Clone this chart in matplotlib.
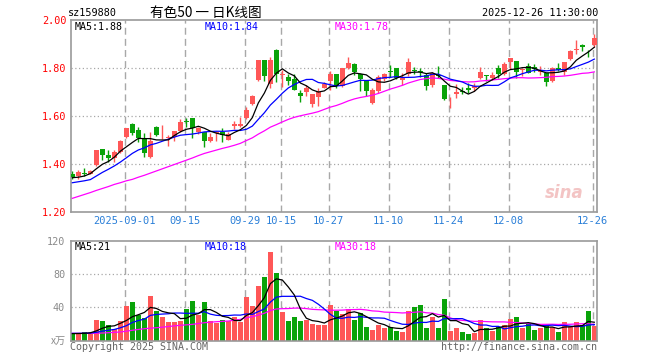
import matplotlib
matplotlib.use("Agg")
import matplotlib.pyplot as plt
import numpy as np

# ---- datos (sz159880, diario) ----
opens = [1.358, 1.351, 1.362, 1.359, 1.396, 1.462, 1.437, 1.426, 1.448, 1.512,
         1.565, 1.540, 1.504, 1.430, 1.553, 1.524, 1.508, 1.513, 1.537, 1.579,
         1.590, 1.532, 1.532, 1.496, 1.530, 1.532, 1.500, 1.557, 1.560, 1.593,
         1.648, 1.750, 1.833, 1.732, 1.875, 1.771, 1.762, 1.754, 1.697, 1.701,
         1.648, 1.680, 1.718, 1.746, 1.773, 1.725, 1.798, 1.815, 1.773, 1.748,
         1.655, 1.704, 1.754, 1.789, 1.798, 1.748, 1.773, 1.793, 1.788, 1.771,
         1.729, 1.771, 1.729, 1.674, 1.693, 1.705, 1.718, 1.715, 1.757, 1.771,
         1.757, 1.798, 1.773, 1.823, 1.829, 1.790, 1.808, 1.805, 1.783, 1.779,
         1.746, 1.798, 1.782, 1.837, 1.875, 1.896, 1.875, 1.896]
highs = [1.371, 1.375, 1.382, 1.376, 1.460, 1.462, 1.457, 1.457, 1.498, 1.551,
         1.571, 1.555, 1.530, 1.532, 1.557, 1.562, 1.521, 1.539, 1.587, 1.590,
         1.590, 1.555, 1.532, 1.528, 1.537, 1.548, 1.534, 1.579, 1.597, 1.639,
         1.687, 1.833, 1.833, 1.846, 1.879, 1.791, 1.776, 1.776, 1.707, 1.729,
         1.690, 1.718, 1.743, 1.787, 1.773, 1.801, 1.846, 1.821, 1.778, 1.748,
         1.715, 1.771, 1.778, 1.812, 1.801, 1.778, 1.840, 1.805, 1.801, 1.778,
         1.785, 1.809, 1.729, 1.680, 1.732, 1.722, 1.736, 1.736, 1.805, 1.771,
         1.785, 1.812, 1.826, 1.840, 1.829, 1.798, 1.819, 1.815, 1.809, 1.779,
         1.805, 1.819, 1.826, 1.876, 1.916, 1.901, 1.875, 1.940]
lows = [1.337, 1.337, 1.351, 1.357, 1.393, 1.416, 1.409, 1.409, 1.444, 1.507,
        1.521, 1.493, 1.429, 1.426, 1.518, 1.503, 1.477, 1.497, 1.535, 1.554,
        1.507, 1.526, 1.472, 1.490, 1.496, 1.490, 1.498, 1.546, 1.555, 1.587,
        1.646, 1.746, 1.746, 1.715, 1.743, 1.722, 1.729, 1.707, 1.660, 1.685,
        1.639, 1.643, 1.715, 1.708, 1.715, 1.721, 1.796, 1.771, 1.704, 1.685,
        1.648, 1.694, 1.746, 1.764, 1.754, 1.729, 1.768, 1.773, 1.764, 1.708,
        1.722, 1.757, 1.666, 1.632, 1.676, 1.690, 1.694, 1.704, 1.754, 1.746,
        1.748, 1.757, 1.771, 1.796, 1.760, 1.768, 1.778, 1.782, 1.771, 1.725,
        1.740, 1.787, 1.771, 1.835, 1.857, 1.871, 1.844, 1.889]
closes = [1.344, 1.368, 1.360, 1.372, 1.457, 1.437, 1.426, 1.451, 1.496, 1.548,
          1.528, 1.510, 1.447, 1.496, 1.521, 1.526, 1.513, 1.537, 1.573, 1.574,
          1.551, 1.551, 1.496, 1.512, 1.533, 1.521, 1.526, 1.565, 1.568, 1.623,
          1.685, 1.833, 1.768, 1.833, 1.773, 1.776, 1.746, 1.708, 1.685, 1.715,
          1.690, 1.701, 1.732, 1.773, 1.725, 1.798, 1.819, 1.782, 1.754, 1.704,
          1.707, 1.764, 1.773, 1.785, 1.757, 1.760, 1.823, 1.789, 1.785, 1.726,
          1.778, 1.768, 1.671, 1.677, 1.701, 1.701, 1.707, 1.726, 1.785, 1.767,
          1.771, 1.773, 1.816, 1.840, 1.782, 1.796, 1.780, 1.796, 1.787, 1.740,
          1.798, 1.790, 1.823, 1.871, 1.879, 1.887, 1.873, 1.923]
volumes = [7.6, 7.6, 10.4, 8.4, 24.8, 23.6, 18.8, 13.6, 23.6, 41.6,
           46.4, 30.8, 27.2, 53.6, 35.6, 28.4, 22.4, 22.4, 23.6, 38.0,
           47.6, 30.8, 46.4, 23.6, 21.2, 24.8, 23.6, 28.4, 22.4, 52.4,
           41.6, 65.6, 76.4, 106.4, 81.2, 34.4, 23.6, 28.4, 23.6, 24.8,
           20.0, 18.8, 18.8, 42.8, 35.6, 32.0, 38.0, 24.8, 33.2, 16.4,
           12.8, 18.8, 15.2, 16.4, 11.6, 10.4, 35.6, 40.4, 42.8, 15.2,
           28.4, 15.2, 50.0, 11.6, 15.2, 10.4, 8.0, 9.2, 24.8, 15.2,
           11.6, 16.4, 18.8, 26.0, 28.4, 15.2, 20.0, 12.8, 15.2, 17.6,
           16.4, 10.4, 22.4, 16.4, 22.4, 18.8, 35.6, 17.6]

# tramos iniciales de las medias (dependen de dias fuera del grafico)
ma5_head = [1.343, 1.345, 1.350, 1.360]
ma10_head = [1.322, 1.326, 1.330, 1.335, 1.350, 1.365, 1.378, 1.392, 1.408]
ma30_head = [1.257, 1.265, 1.273, 1.281, 1.290, 1.298, 1.306, 1.315, 1.322, 1.330,
             1.336, 1.345, 1.353, 1.362, 1.371, 1.380, 1.389, 1.398, 1.407, 1.416,
             1.425, 1.435, 1.444, 1.451, 1.458, 1.465, 1.471, 1.478, 1.486]
vma5_head = [8.5, 8.6, 8.8, 9.5]
vma10_head = [8.8, 8.8, 8.9, 9.2, 10.0, 11.5, 12.5, 13.5, 15.5]
vma30_head = [8.8, 8.8, 8.8, 8.8, 9.0, 9.2, 9.6, 10.0, 10.5, 11.4,
              12.5, 13.5, 14.4, 15.0, 15.6, 16.2, 17.0, 17.8, 18.5, 19.0,
              19.6, 20.6, 21.6, 22.2, 22.8, 23.2, 23.6, 24.6, 25.6]

date_idx = [9, 19, 29, 35, 43, 53, 63, 73, 87]
date_labels = ["2025-09-01", "09-15", "09-29", "10-15", "10-27",
               "11-10", "11-24", "12-08", "12-26"]
price_ticks = [1.20, 1.40, 1.60, 1.80, 2.00]
vol_ticks = [40, 80, 120]
ma_labels = ["MA5:1.88", "MA10:1.84", "MA30:1.78"]
vma_labels = ["MA5:21", "MA10:18", "MA30:18"]

ROJO = "#ff5757"
VERDE = "#09a309"
GRIS = "#a8a8a8"
MONO = "DejaVu Sans Mono"
W, H = 660, 360


def media_movil(vals, n, head):
    out = list(head)
    for i in range(len(head), len(vals)):
        out.append(np.mean(vals[i - n + 1:i + 1]))
    return np.array(out)


def fx(px):
    return px / W


def fy(py):
    return 1 - py / H


x = np.arange(len(closes))
o, h, l, c = map(np.array, (opens, highs, lows, closes))
sube = c >= o
colores = np.where(sube, ROJO, VERDE)

fig = plt.figure(figsize=(W / 100, H / 100), dpi=100)
ax = fig.add_axes([fx(70.7), fy(212), fx(597 - 70.7), (212 - 20) / H])
axv = fig.add_axes([fx(70.7), fy(340.7), fx(597 - 70.7), (340.7 - 240.7) / H])

xlim = (-0.28, 87.45)
for a in (ax, axv):
    a.set_xlim(*xlim)
    for s in a.spines.values():
        s.set_color("#9a9a9a")
        s.set_linewidth(1.2)
    for d in date_idx:
        a.axvline(d - 0.25, color=GRIS, lw=1, ls=(0, (5, 3)), zorder=0)
    a.tick_params(length=0)

# ---- panel de precios ----
ax.set_ylim(1.2, 2.0)
for yv in [1.4, 1.6, 1.8]:
    ax.axhline(yv, color=GRIS, lw=0.9, ls=(0, (1, 2)), zorder=0)

ax.vlines(x, l, h, colors=colores, lw=1, zorder=2)
cuerpo = np.maximum(np.abs(c - o), 0.003)
ax.bar(x, cuerpo, bottom=np.minimum(o, c), width=0.75, color=colores, zorder=3)

ax.plot(x, media_movil(closes, 30, ma30_head), color="#ff00ff", lw=0.9, zorder=4)
ax.plot(x, media_movil(closes, 10, ma10_head), color="#0000ff", lw=0.9, zorder=4)
ax.plot(x, media_movil(closes, 5, ma5_head), color="black", lw=0.9, zorder=4)

ax.set_yticks(price_ticks)
ax.set_yticklabels([f"{t:.2f}" for t in price_ticks], color="red",
                   fontsize=7.3, family=MONO)
ax.tick_params(axis="y", pad=3)
ax.set_xticks([d - 0.25 for d in date_idx])
ax.set_xticklabels(date_labels, color="#2a7fd8", fontsize=7.5, family=MONO)
ax.tick_params(axis="x", pad=3)

ax.text(0.975, 0.1, "sina", transform=ax.transAxes, ha="right", va="center",
        fontsize=12, fontweight="bold", style="italic", color="#f3c4c4", zorder=1)

# ---- panel de volumen ----
axv.set_ylim(0, 120)
for yv in [40, 80]:
    axv.axhline(yv, color=GRIS, lw=0.9, ls=(0, (1, 2)), zorder=0)
axv.bar(x, volumes, width=0.82, color=colores, zorder=2)
axv.plot(x, media_movil(volumes, 30, vma30_head), color="#ff00ff", lw=0.9, zorder=4)
axv.plot(x, media_movil(volumes, 10, vma10_head), color="#0000ff", lw=0.9, zorder=4)
axv.plot(x, media_movil(volumes, 5, vma5_head), color="black", lw=0.9, zorder=4)
axv.set_xticks([])
axv.set_yticks(vol_ticks)
axv.set_yticklabels([str(t) for t in vol_ticks], color="#8a8a8a",
                    fontsize=7.3, family=MONO)
axv.tick_params(axis="y", pad=4)

# ---- textos ----
fig.text(fx(68), fy(13), "sz159880", fontsize=7.3, family=MONO, va="center")
fig.text(fx(150), fy(13), "有色50 一 日K线图", fontsize=9.8,
         family=["Noto Sans CJK SC", "DejaVu Sans"], va="center")
fig.text(fx(598), fy(13), "2025-12-26 11:30:00", fontsize=7.3, family=MONO,
         va="center", ha="right")

for txt, px, col in zip(ma_labels, [75, 205, 335], ["black", "#0000ff", "#ff00ff"]):
    fig.text(fx(px), fy(26.5), txt, color=col, fontsize=7.2, family=MONO, va="center")
for txt, px, col in zip(vma_labels, [75, 205, 335], ["black", "#0000ff", "#ff00ff"]):
    fig.text(fx(px), fy(247), txt, color=col, fontsize=7.2, family=MONO, va="center")

fig.text(fx(66), fy(340.7), "x万", color="#8a8a8a", fontsize=7.3, ha="right",
         va="center", family=["Noto Sans CJK SC", "DejaVu Sans"])
fig.text(fx(70), fy(346.5), "Copyright 2025 SINA.COM", color="#666666",
         fontsize=7.2, family=MONO, va="center")
fig.text(fx(597), fy(346.5), "http://finance.sina.com.cn", color="#666666",
         fontsize=7.2, family=MONO, va="center", ha="right")

fig.savefig("out.png", dpi=100, facecolor="white")
